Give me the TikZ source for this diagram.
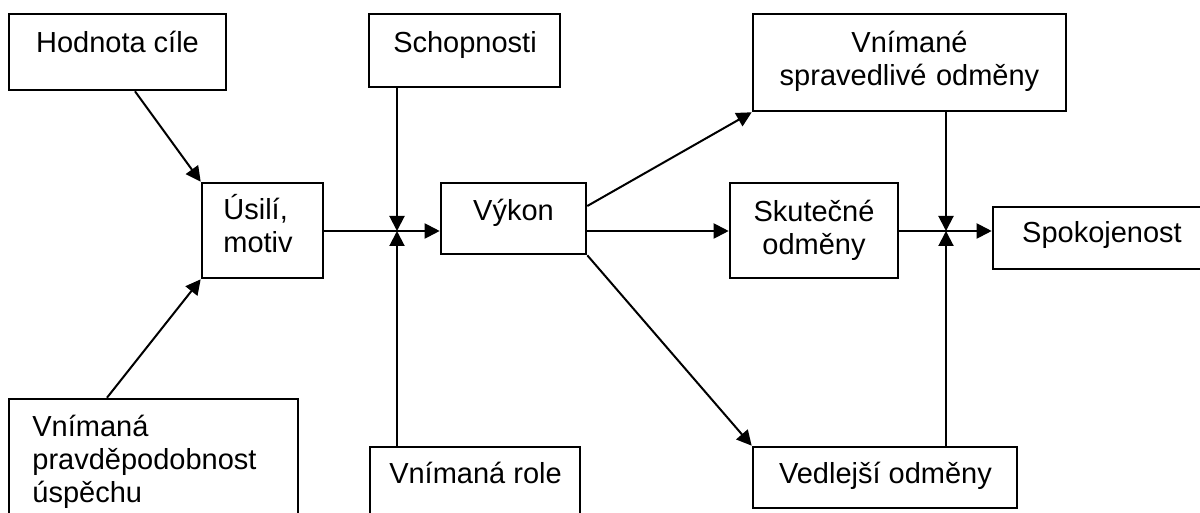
\documentclass[tikz,border=0pt]{standalone}
\usepackage{fontspec}
\setmainfont{Liberation Sans}
\usetikzlibrary{arrows.meta,calc}

\tikzset{
  box/.style={draw, line width=1.3pt, rectangle, inner sep=0pt},
  lbl/.style={font=\fontsize{14.5}{16.5}\selectfont, inner sep=0pt, anchor=base},
  conn/.style={line width=1pt},
  arr/.style={line width=1pt, -{Triangle[length=7.5pt,width=7.5pt]}}
}

\begin{document}
\begin{tikzpicture}[x=0.5pt,y=-0.5pt]
    % Canvas
    \fill[white] (0,0) rectangle (1200,513);
    \useasboundingbox (0,0) rectangle (1200,513);

    % Boxes
    \node[box, minimum width=108.5pt, minimum height=38pt] (hod) at (117.5,52) {};
    \node[box, minimum width=95.5pt, minimum height=36.5pt] (sch) at (464.5,50.5) {};
    \node[box, minimum width=60.5pt, minimum height=47.5pt] (usi) at (262.5,230.5) {};
    \node[box, minimum width=72.5pt, minimum height=35.5pt] (vyk) at (513.5,218.5) {};
    \node[box, minimum width=156.5pt, minimum height=48.5pt] (vsp) at (909.5,62.5) {};
    \node[box, minimum width=84pt, minimum height=47.5pt] (sku) at (814,230.5) {};
    \node[box, minimum width=108.5pt, minimum height=31pt] (spo) at (1101.5,238) {};
    \node[box, minimum width=144.5pt, minimum height=65pt] (vpr) at (153.5,464) {};
    \node[box, minimum width=105pt, minimum height=40pt] (rol) at (475,487) {};
    \node[box, minimum width=132pt, minimum height=30.5pt] (ved) at (885,477.5) {};

    % Texts
    \node[lbl] (t-hod) at (117.5,53) {Hodnota cíle};
    \node[lbl] (t-sch) at (465,53) {Schopnosti};
    \node[lbl, text width=55pt, align=left, anchor=base west] (t-usi) at (223,220) {Úsilí,\\motiv};
    \node[lbl] (t-vyk) at (513.5,221) {Výkon};
    \node[lbl, text width=150pt, align=center] (t-vsp) at (909.5,53) {Vnímané\\spravedlivé odměny};
    \node[lbl, text width=80pt, align=center] (t-sku) at (814,222) {Skutečné\\odměny};
    \node[lbl] (t-spo) at (1102,243) {Spokojenost};
    \node[lbl, text width=140pt, align=left, anchor=base west] (t-vpr) at (32,437) {Vnímaná\\pravděpodobnost\\úspěchu};
    \node[lbl] (t-rol) at (475.5,483) {Vnímaná role};
    \node[lbl] (t-ved) at (885.5,483) {Vedlejší odměny};

    % Junctions
    \coordinate (j1) at (397,231);
    \coordinate (j2) at (946,231);

    % Left part
    \draw[arr] ($(hod.south)+(17.5,0)$) -- (usi.north west);
    \draw[arr] ($(vpr.north)+(-46.5,0)$) -- (usi.south west);
    \draw[conn] (j1 -| usi.east) -- (j1);
    \draw[arr] (j1) -- (j1 -| vyk.west);
    \draw[arr] (j1 |- sch.south) -- (j1);
    \draw[arr] (j1 |- rol.north) -- (j1);

    % Right part
    \draw[arr] ($(vyk.east)+(0,-12.5)$) -- (vsp.south west);
    \draw[arr] (j2 -| vyk.east) -- (j2 -| sku.west);
    \draw[arr] (vyk.south east) -- (ved.north west);
    \draw[conn] (j2 -| sku.east) -- (j2);
    \draw[arr] (j2) -- (j2 -| spo.west);
    \draw[arr] (j2 |- vsp.south) -- (j2);
    \draw[arr] (j2 |- ved.north) -- (j2);
\end{tikzpicture}
\end{document}
